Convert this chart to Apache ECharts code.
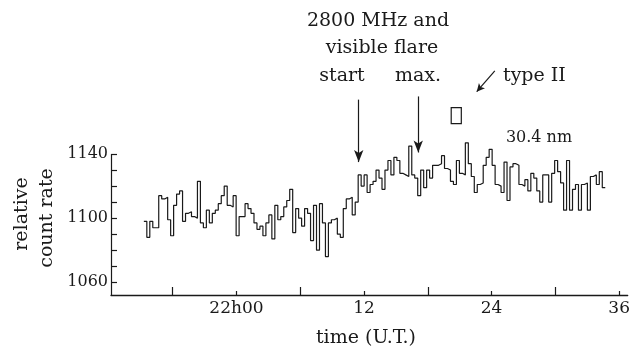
<!DOCTYPE html>
<html>
<head>
<meta charset="utf-8">
<script src="https://cdn.jsdelivr.net/npm/echarts@6/dist/echarts.min.js"></script>
<style>
  html, body { margin: 0; padding: 0; background: #fff; }
  #chart { width: 633px; height: 352px; }
</style>
</head>
<body>
<div id="chart"></div>
<script>
// 30.4 nm relative count rate, one value per time bin (minutes after 22h00 UT)
const binStartMin = -8.71;
const binWidthMin = 0.28;
const countRate = [
  1098, 1088, 1098, 1094, 1094, 1114, 1112, 1113, 1099, 1089, 1108, 1115, 1117, 1098, 1103, 1104,
  1101, 1100, 1123, 1097, 1094, 1105, 1097, 1103, 1105, 1109, 1114, 1120, 1108, 1107, 1114, 1089,
  1101, 1101, 1109, 1106, 1103, 1097, 1093, 1095, 1089, 1097, 1102, 1087, 1108, 1099, 1101, 1107,
  1111, 1118, 1091, 1106, 1100, 1095, 1106, 1103, 1086, 1108, 1080, 1109, 1097, 1076, 1097, 1099,
  1100, 1090, 1088, 1106, 1112, 1113, 1102, 1110, 1127, 1120, 1127,
  1116, 1121, 1123, 1130, 1125, 1118, 1130, 1136, 1127, 1138, 1136, 1128, 1127, 1126, 1145, 1127,
  1125, 1114, 1130, 1119, 1130, 1125, 1133, 1133, 1134, 1139, 1131, 1130, 1123, 1121, 1136, 1128,
  1127,
  1147, 1134, 1126, 1116, 1121, 1122, 1133, 1138, 1143, 1133, 1121, 1120, 1116, 1135, 1111, 1132,
  1134, 1133, 1121, 1120, 1124, 1117, 1128, 1125, 1117, 1110, 1127, 1127, 1110, 1128, 1136, 1129,
  1122, 1105, 1136, 1105, 1118, 1121, 1105, 1121, 1122, 1105, 1126, 1127, 1121, 1129, 1119
];

// axis ticks and labels
const xLabelValues = [0, 12, 24, 36];
const xLabelTexts = ['22h00', '12', '24', '36'];
const xMidTickValues = [-6, 6, 18, 30];
const yTickValues = [1060, 1070, 1080, 1090, 1100, 1110, 1120, 1130, 1140];
const yLabelValues = [1060, 1100, 1140];

// event times (minutes after 22h00)
const flareStartMin = 11.5;
const flareMaxMin = 17.1;
const typeIIStartMin = 20.2;
const typeIIEndMin = 21.15;

const X_MIN = -11.8, X_MAX = 36.8;
const Y_MIN = 1052, Y_MAX = 1200, Y_AXIS_TOP = 1140;

const stepData = countRate.map((v, i) => [binStartMin + i * binWidthMin, v]);
stepData.push([binStartMin + countRate.length * binWidthMin, countRate[countRate.length - 1]]);

const ink = '#1a1a1a';
const serif = '"DejaVu Serif", "Liberation Serif", serif';

const chart = echarts.init(document.getElementById('chart'), null, { renderer: 'canvas' });

chart.setOption({
  animation: false,
  backgroundColor: '#fff',
  grid: { left: 111, right: 3, top: 58, bottom: 57, containLabel: false },
  xAxis: [
    {
      type: 'value', min: X_MIN, max: X_MAX, position: 'bottom',
      axisLine: { show: true, onZero: false, lineStyle: { color: ink, width: 1.3 } },
      axisTick: { show: true, inside: true, length: 4, customValues: xLabelValues,
                  lineStyle: { color: ink, width: 1.2 } },
      axisLabel: { show: true, customValues: xLabelValues, margin: 5,
                   color: ink, fontFamily: serif, fontSize: 17,
                   formatter: v => xLabelTexts[xLabelValues.indexOf(v)] || '' },
      splitLine: { show: false }
    },
    {
      type: 'value', min: X_MIN, max: X_MAX, position: 'bottom',
      axisLine: { show: false, onZero: false },
      axisTick: { show: true, inside: true, length: 8, customValues: xMidTickValues,
                  lineStyle: { color: ink, width: 1.2 } },
      axisLabel: { show: false },
      splitLine: { show: false }
    }
  ],
  yAxis: {
    type: 'value', min: Y_MIN, max: Y_MAX, position: 'left',
    axisLine: { show: false, onZero: false },
    axisTick: { show: true, inside: true, length: 6, customValues: yTickValues,
                lineStyle: { color: ink, width: 1.2 } },
    axisLabel: { show: true, customValues: yLabelValues, margin: 3,
                 color: ink, fontFamily: serif, fontSize: 16,
                 formatter: v => String(v) },
    splitLine: { show: false }
  },
  series: [
    {
      type: 'line',
      step: 'end',
      data: stepData,
      showSymbol: false,
      clip: false,
      lineStyle: { color: ink, width: 1.2 },
      markLine: {
        silent: true,
        animation: false,
        label: { show: false },
        lineStyle: { color: ink, width: 1.2, type: 'solid' },
        data: [
          // vertical axis line, drawn only up to the top tick
          [{ coord: [X_MIN, Y_MIN], symbol: 'none' }, { coord: [X_MIN, Y_AXIS_TOP], symbol: 'none' }],
          [{ coord: [flareStartMin, 1174], symbol: 'none' },
           { coord: [flareStartMin, 1135], symbol: 'arrow', symbolSize: [7, 12] }],
          [{ coord: [flareMaxMin, 1176], symbol: 'none' },
           { coord: [flareMaxMin, 1141], symbol: 'arrow', symbolSize: [7, 12] }],
          [{ coord: [24.3, 1192], symbol: 'none' },
           { coord: [22.6, 1179], symbol: 'arrow', symbolSize: [6, 8] }]
        ]
      },
      markArea: {
        silent: true,
        itemStyle: { color: 'rgba(0,0,0,0)', borderColor: ink, borderWidth: 1.2 },
        data: [[{ coord: [typeIIStartMin, 1169] }, { coord: [typeIIEndMin, 1159] }]]
      }
    }
  ],
  graphic: [
    { type: 'text', x: 378, y: 21, style: { text: '2800 MHz and', font: '19px ' + serif, fill: ink, align: 'center', verticalAlign: 'middle' } },
    { type: 'text', x: 382, y: 48, style: { text: 'visible flare', font: '19px ' + serif, fill: ink, align: 'center', verticalAlign: 'middle' } },
    { type: 'text', x: 342, y: 76, style: { text: 'start', font: '19px ' + serif, fill: ink, align: 'center', verticalAlign: 'middle' } },
    { type: 'text', x: 418, y: 76, style: { text: 'max.', font: '19px ' + serif, fill: ink, align: 'center', verticalAlign: 'middle' } },
    { type: 'text', x: 503, y: 76, style: { text: 'type II', font: '19px ' + serif, fill: ink, align: 'left', verticalAlign: 'middle' } },
    { type: 'text', x: 539, y: 138, style: { text: '30.4 nm', font: '16px ' + serif, fill: ink, align: 'center', verticalAlign: 'middle' } },
    { type: 'text', x: 366, y: 338, style: { text: 'time (U.T.)', font: '19px ' + serif, fill: ink, align: 'center', verticalAlign: 'middle' } },
    { type: 'text', x: 22, y: 214, rotation: Math.PI / 2, style: { text: 'relative', font: '19px ' + serif, fill: ink, align: 'center', verticalAlign: 'middle' } },
    { type: 'text', x: 47, y: 218, rotation: Math.PI / 2, style: { text: 'count rate', font: '19px ' + serif, fill: ink, align: 'center', verticalAlign: 'middle' } }
  ]
});
</script>
</body>
</html>
